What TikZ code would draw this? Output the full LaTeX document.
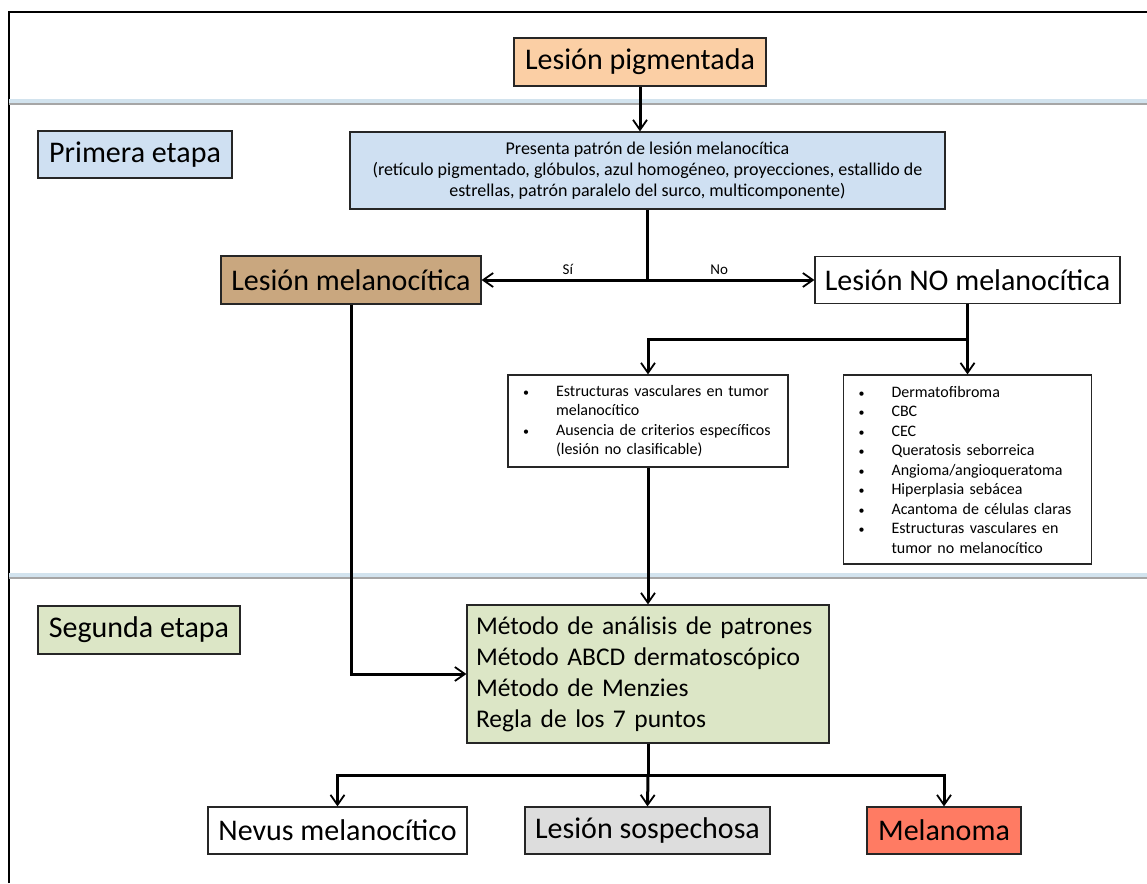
\documentclass[tikz,border=0pt]{standalone}
\usepackage{fontspec}
\setmainfont{Carlito}
\usetikzlibrary{arrows.meta, positioning}
\definecolor{peach}{HTML}{FBCFA5}
\definecolor{etapablue}{HTML}{CFE0F2}
\definecolor{melbrown}{HTML}{C9A77F}
\definecolor{etapagreen}{HTML}{DCE6C6}
\definecolor{susgrey}{HTML}{DDDDDD}
\definecolor{melred}{HTML}{FF7B63}
\definecolor{sepblue}{HTML}{D2E3EE}
\tikzstyle{block} = [rectangle, draw=black!85, line width=1.2pt, inner sep=0pt]
\tikzstyle{big} = [font=\fontsize{30}{36}\selectfont]
\tikzstyle{small} = [font=\fontsize{16}{19.5}\selectfont, align=left, inner xsep=15pt]
\newcommand{\itm}{\makebox[33pt][l]{\fontsize{12}{12}\selectfont\textbullet}}
\newcommand{\cnt}{\hspace*{33pt}}

\begin{document}
\begin{tikzpicture}[x=1pt, y=-1pt,
flow/.style = {-{Straight Barb[length=10pt,width=14pt,line width=1.8pt]}, line width=3pt},
trunk/.style = {line width=3pt},
sep/.style = {sepblue, line width=4pt},
sepshade/.style = {black!35, line width=1.2pt},
lbl/.style = {font=\fontsize{15}{18}\selectfont, above=1pt}
                    ]
\useasboundingbox (0,0) rectangle (1147,883);
% frame and separators
\draw[line width=1.5pt] (9,883) -- (9,12) -- (1147,12);
\draw[sep] (9,101) -- (1147,101);
\draw[sepshade] (9,104) -- (1147,104);
\draw[sep] (9,575) -- (1147,575);
\draw[sepshade] (9,578) -- (1147,578);

% primera etapa
\node[block, big, fill=peach, minimum width=252pt, minimum height=48pt] (pig) at (640,62) {Lesión pigmentada};
\node[block, big, fill=etapablue, minimum width=194pt, minimum height=47pt] (prim) at (135,154.5) {Primera etapa};
\node[block, fill=etapablue, minimum width=595pt, minimum height=77pt, align=center,
      font=\fontsize{18}{21}\selectfont] (pres) at (647.5,170.5)
      {Presenta patrón de lesión melanocítica\\
       (retículo pigmentado, glóbulos, azul homogéneo, proyecciones, estallido de\\
       estrellas, patrón paralelo del surco, multicomponente)};
\node[block, big, fill=melbrown, minimum width=260pt, minimum height=48pt] (mel) at (351,280) {Lesión melanocítica};
\node[block, big, fill=white, minimum width=305pt, minimum height=47pt] (nomel) at (967.5,280) {Lesión NO melanocítica};
\node[block, small, fill=white, text width=250pt, minimum height=92pt] (estr) at (648,421)
      {\itm Estructuras vasculares en tumor\\
       \cnt melanocítico\\
       \itm Ausencia de criterios específicos\\
       \cnt (lesión no clasificable)};
\node[block, small, fill=white, text width=218pt, minimum height=189pt] (list) at (967.5,469.5)
      {\itm Dermatofibroma\\
       \itm CBC\\
       \itm CEC\\
       \itm Queratosis seborreica\\
       \itm Angioma/angioqueratoma\\
       \itm Hiperplasia sebácea\\
       \itm Acantoma de células claras\\
       \itm Estructuras vasculares en\\
       \cnt tumor no melanocítico};

% segunda etapa
\node[block, big, fill=etapagreen, minimum width=202pt, minimum height=48pt] (seg) at (139,630) {Segunda etapa};
\node[block, fill=etapagreen, text width=344pt, inner xsep=9pt, minimum height=138pt, align=left,
      font=\fontsize{25.5}{31}\selectfont] (met) at (648,674)
      {Método de análisis de patrones\\
       Método ABCD dermatoscópico\\
       Método de Menzies\\
       Regla de los 7 puntos};
\node[block, big, fill=white, minimum width=259pt, minimum height=47pt] (nev) at (337.5,830.5) {Nevus melanocítico};
\node[block, big, fill=susgrey, minimum width=245pt, minimum height=47pt] (sos) at (647.5,830.5) {Lesión sospechosa};
\node[block, big, fill=melred, minimum width=154pt, minimum height=47pt] (mela) at (944,830.5) {Melanoma};

% connectors
\draw[flow] (pig.south) -- (pig.south |- pres.north);
\coordinate (split) at (pres.south |- mel.east);
\draw[trunk] (pres.south) -- (split);
\draw[flow] (split) -- (mel.east) node[lbl, pos=0.48] {Sí};
\draw[flow] (split) -- (nomel.west) node[lbl, pos=0.43] {No};
\draw[trunk] (nomel.south) -- ++(0,35) coordinate (nsplit);
\draw[flow] (nsplit) -| (estr.north);
\draw[flow] (nsplit) -- (list.north);
\draw[flow] (estr.south) -- (met.north);
\draw[flow] (mel.south) |- (met.west);
\draw[trunk] (met.south) -- ++(0,32) coordinate (msplit);
\draw[flow] (msplit) -| (nev.north);
\draw[flow] (msplit) -- (sos.north);
\draw[flow] (msplit) -| (mela.north);
\end{tikzpicture}
\end{document}
